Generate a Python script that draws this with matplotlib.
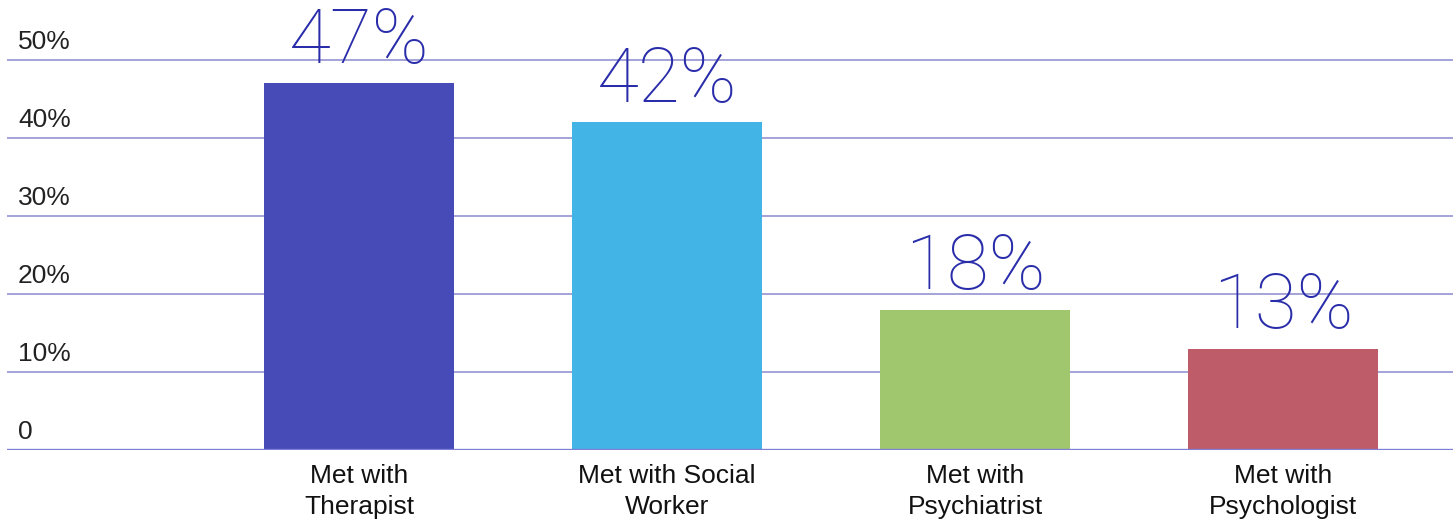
import matplotlib.pyplot as plt

categories = ["Met with\nTherapist", "Met with Social\nWorker", "Met with\nPsychiatrist", "Met with\nPsychologist"]
values = [47, 42, 18, 13]
bar_colors = ["#464BB8", "#42B4E6", "#A0C76E", "#BE5C69"]
y_ticks = [0, 10, 20, 30, 40, 50]
y_tick_labels = ["0", "10%", "20%", "30%", "40%", "50%"]

W, H = 1453, 521
fig = plt.figure(figsize=(W / 100, H / 100), dpi=100)
# axes spans from the left margin to the right edge, baseline at y=450px
ax = fig.add_axes([7 / W, (H - 450) / H, 1 - 7 / W, 450 / H])

x = list(range(len(categories)))
ax.set_xlim(-1.143, 3.552)
ax.set_ylim(0, 450 / 7.8)

# grid lines behind the bars
for t in y_ticks[1:]:
    ax.axhline(t, color="#9494D2", lw=1.2, zorder=0)
ax.axhline(0, color="#7F7FD6", lw=2.4, zorder=3)

bars = ax.bar(x, values, width=0.617, color=bar_colors, zorder=2)

for b, v in zip(bars, values):
    ax.annotate(f"{v}%", (b.get_x() + b.get_width() / 2, v),
                xytext=(0, 15), textcoords="offset points",
                ha="center", va="baseline", fontsize=55,
                family="Roboto", fontweight="light", color="#2A2DAA")

for t, lab in zip(y_ticks, y_tick_labels):
    ax.annotate(lab, (11 / 1446, t), xycoords=("axes fraction", "data"),
                xytext=(0, 8), textcoords="offset points",
                ha="left", va="baseline", fontsize=19,
                family="Liberation Sans", color="#222222")

ax.set_xticks(x)
ax.set_xticklabels(categories, fontsize=19, family="Liberation Sans",
                   color="#111111", linespacing=1.4)
ax.tick_params(axis="x", length=0, pad=10)
ax.set_yticks([])
for s in ax.spines.values():
    s.set_visible(False)

fig.savefig("out.png", dpi=100)
